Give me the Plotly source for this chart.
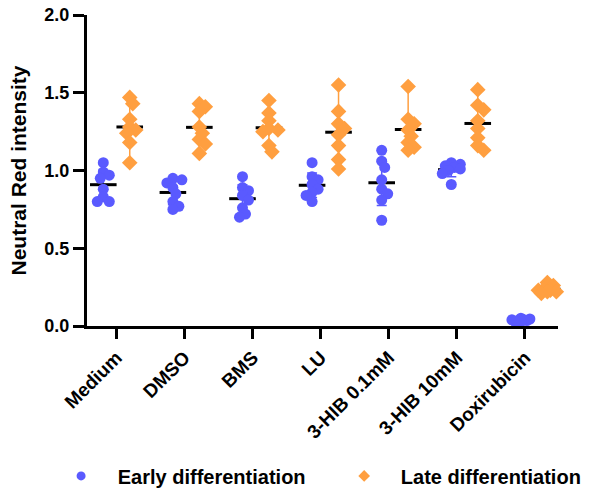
import numpy as np
import plotly.graph_objects as go

categories = ["Medium", "DMSO", "BMS", "LU", "3-HIB 0.1mM", "3-HIB 10mM", "Doxirubicin"]
y_ticks = [0.0, 0.5, 1.0, 1.5, 2.0]
y_tick_text = ["0.0", "0.5", "1.0", "1.5", "2.0"]

early_medium = [1.05, 0.99, 0.97, 0.95, 0.88, 0.83, 0.80, 0.80]
early_dmso = [0.95, 0.94, 0.92, 0.89, 0.85, 0.80, 0.77, 0.75]
early_bms = [0.96, 0.89, 0.87, 0.84, 0.81, 0.76, 0.72, 0.70]
early_lu = [1.05, 0.96, 0.94, 0.91, 0.88, 0.86, 0.84, 0.80]
early_hib01 = [1.13, 1.06, 1.02, 0.94, 0.88, 0.85, 0.81, 0.68]
early_hib10 = [1.05, 1.04, 1.03, 1.02, 1.01, 1.00, 0.98, 0.91]
early_doxi = [0.05, 0.045, 0.04, 0.04, 0.035, 0.035, 0.03, 0.03]

late_medium = [1.47, 1.43, 1.33, 1.28, 1.26, 1.24, 1.18, 1.05]
late_dmso = [1.43, 1.41, 1.38, 1.28, 1.24, 1.20, 1.17, 1.11]
late_bms = [1.45, 1.37, 1.32, 1.27, 1.26, 1.25, 1.16, 1.12]
late_lu = [1.55, 1.38, 1.30, 1.27, 1.23, 1.16, 1.07, 1.01]
late_hib01 = [1.54, 1.33, 1.30, 1.26, 1.22, 1.18, 1.15, 1.13]
late_hib10 = [1.52, 1.42, 1.39, 1.32, 1.27, 1.21, 1.16, 1.13]
late_doxi = [0.28, 0.26, 0.24, 0.23, 0.23, 0.22, 0.22, 0.21]

early_groups = [early_medium, early_dmso, early_bms, early_lu, early_hib01, early_hib10, early_doxi]
late_groups = [late_medium, late_dmso, late_bms, late_lu, late_hib01, late_hib10, late_doxi]

BLUE = "#5a5aff"
ORANGE = "#ff9f40"
FONT = "Liberation Sans, Arial, sans-serif"

# layout geometry
PX_X = 69.6   # px per x unit
PX_Y = 155.5  # px per y unit
OFF = 0.19


def swarm(vals, center, gap=6.5, step=3.0, maxk=3):
    """simple beeswarm: spread overlapping points sideways"""
    placed = []
    xs = [0.0] * len(vals)
    order = sorted(range(len(vals)), key=lambda i: -vals[i])
    for i in order:
        yv = vals[i] * PX_Y
        cands = [0.0]
        for k in range(1, maxk + 1):
            cands += [k * step, -k * step]
        best, best_d = 0.0, -1
        for c in cands:
            dmin = min([((px - c) ** 2 + (py - yv) ** 2) ** 0.5 for (px, py) in placed] or [99])
            if dmin >= gap:
                best = c
                break
            if dmin > best_d:
                best, best_d = c, dmin
        placed.append((best, yv))
        xs[i] = center + best / PX_X
    return xs


fig = go.Figure()

# error bars (early: SD with caps, late: range)
for gi, (e, l) in enumerate(zip(early_groups, late_groups)):
    em, esd = float(np.mean(e)), float(np.std(e, ddof=1))
    lm = float(np.mean(l))
    fig.add_trace(go.Scatter(
        x=[gi - OFF], y=[em], mode="markers", marker=dict(size=1, opacity=0),
        error_y=dict(type="data", array=[esd], arrayminus=[esd], color=BLUE, thickness=1.5, width=5),
        showlegend=False, hoverinfo="skip", cliponaxis=False))
    fig.add_trace(go.Scatter(
        x=[gi + OFF], y=[lm], mode="markers", marker=dict(size=1, opacity=0),
        error_y=dict(type="data", symmetric=False, array=[max(l) - lm], arrayminus=[lm - min(l)],
                     color=ORANGE, thickness=1.5, width=0),
        showlegend=False, hoverinfo="skip", cliponaxis=False))

# means (drawn beneath the points)
mean_x, mean_y = [], []
for gi, (e, l) in enumerate(zip(early_groups, late_groups)):
    mean_x += [gi - OFF, gi + OFF]
    mean_y += [float(np.mean(e)), float(np.mean(l))]
fig.add_trace(go.Scatter(
    x=mean_x, y=mean_y, mode="markers",
    marker=dict(symbol="line-ew", size=19, line=dict(width=3, color="black")),
    showlegend=False, cliponaxis=False))

# points
for gi, (e, l) in enumerate(zip(early_groups, late_groups)):
    fig.add_trace(go.Scatter(
        x=swarm(e, gi - OFF), y=e, mode="markers",
        marker=dict(symbol="circle", size=11, color=BLUE),
        showlegend=False, cliponaxis=False))
    fig.add_trace(go.Scatter(
        x=swarm(l, gi + OFF), y=l, mode="markers",
        marker=dict(symbol="diamond", size=12, color=ORANGE),
        showlegend=False, cliponaxis=False))

# legend entries (one legend each, placed side by side)
fig.add_trace(go.Scatter(x=[None], y=[None], mode="markers",
                         marker=dict(symbol="circle", size=9, color=BLUE),
                         name="\u00a0\u00a0\u00a0Early differentiation", legend="legend"))
fig.add_trace(go.Scatter(x=[None], y=[None], mode="markers",
                         marker=dict(symbol="diamond", size=9, color=ORANGE),
                         name="\u00a0\u00a0\u00a0Late differentiation", legend="legend2"))

legend_font = dict(size=20, family=FONT, weight="bold")
fig.update_layout(
    width=593, height=490,
    margin=dict(l=87, r=35, t=15, b=164, autoexpand=False),
    plot_bgcolor="white", paper_bgcolor="white",
    font=dict(family=FONT, color="black", size=17, weight="bold"),
    legend=dict(orientation="h", x=-0.055, xanchor="left", y=-0.482, yanchor="middle",
                font=legend_font, itemsizing="trace", bgcolor="rgba(0,0,0,0)"),
    legend2=dict(orientation="h", x=0.546, xanchor="left", y=-0.482, yanchor="middle",
                 font=legend_font, itemsizing="trace", bgcolor="rgba(0,0,0,0)"),
)
fig.update_xaxes(
    range=[-0.424, 6.343], automargin=False, ticklabeloverflow="allow",
    tickmode="array", tickvals=[i * 0.978 for i in range(len(categories))], ticktext=categories,
    tickangle=-45, tickfont=dict(size=19, family=FONT, weight="bold"),
    showline=True, linewidth=3, linecolor="black",
    ticks="outside", ticklen=10, tickwidth=3, tickcolor="black",
    showgrid=False, zeroline=False)
fig.update_yaxes(
    range=[0, 2.0], automargin=False, ticklabeloverflow="allow",
    tickmode="array", tickvals=y_ticks, ticktext=y_tick_text,
    tickfont=dict(size=18, family=FONT, weight="bold"),
    showline=True, linewidth=3, linecolor="black",
    ticks="outside", ticklen=11, tickwidth=3, tickcolor="black",
    showgrid=False, zeroline=False,
    title=dict(text="Neutral Red intensity", font=dict(size=21, family=FONT, weight="bold"), standoff=13))

fig.write_html("out.html", config={"displayModeBar": False},
               post_script="document.body.style.margin='0';")
